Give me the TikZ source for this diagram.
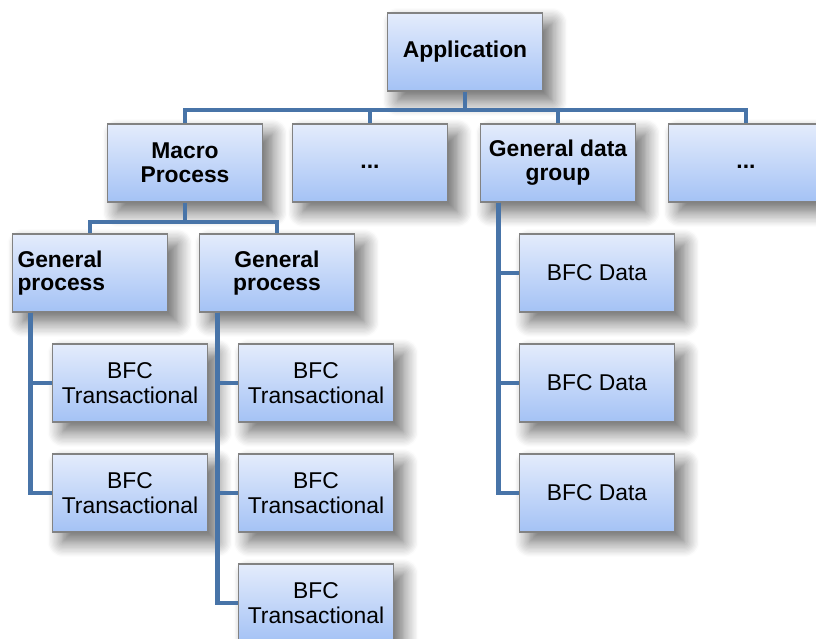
\documentclass[tikz,border=0pt]{standalone}
\usepackage{fontspec}
\setmainfont{Liberation Sans}
\usetikzlibrary{positioning,calc,shadows.blur}
\definecolor{BoxTop}{RGB}{228,236,252}
\definecolor{BoxBottom}{RGB}{164,194,245}
\definecolor{BoxLine}{RGB}{130,130,130}
\definecolor{LinkBlue}{RGB}{72,116,168}
\tikzset{
  unit/.style={draw=BoxLine,line width=0.8pt,top color=BoxTop,bottom color=BoxBottom,
    minimum width=3.1cm,minimum height=1.56cm,inner sep=2pt,align=center,
    blur shadow={shadow xshift=2mm,shadow yshift=-2mm,shadow blur radius=3mm,
      shadow blur steps=12,shadow opacity=60},
    font=\fontsize{13}{14}\selectfont},
  head/.style={unit,font=\fontsize{13}{13.5}\selectfont\bfseries},
  leaf/.style={unit},
  link/.style={draw=LinkBlue,line width=2.8pt},
}

\begin{document}
\begin{tikzpicture}[x=0.02cm,y=-0.02cm]
\path[use as bounding box,clip] (0,0) rectangle (816,639);
\node[head] (app) at (465,52) {Application};
\node[head] (mp) at (185,163) {Macro\\Process};
\node[head] (dotsa) at (370,163) {\raisebox{-3pt}[0pt][0pt]{...}};
\node[head] (gdg) at (558,163) {General data\\group};
\node[head] (dotsb) at (746,163) {\raisebox{-3pt}[0pt][0pt]{...}};
\node[head,text width=2.9cm,align=left] (gpa) at (90,273) {General\\process};
\node[head] (gpb) at (277,273) {General\\process};
\node[leaf] (ta) at (130,383) {BFC\\Transactional};
\node[leaf] (tb) at (130,493) {BFC\\Transactional};
\node[leaf] (tc) at (316,383) {BFC\\Transactional};
\node[leaf] (td) at (316,493) {BFC\\Transactional};
\node[leaf] (te) at (316,603) {BFC\\Transactional};
\node[leaf] (da) at (597,273) {BFC Data};
\node[leaf] (db) at (597,383) {BFC Data};
\node[leaf] (dc) at (597,493) {BFC Data};
\coordinate (bus) at (465,110);
\coordinate (mpbus) at (185,222);
\draw[link] (app.south) -- (bus);
\draw[link] (mp.north) |- (bus) -| (dotsb.north);
\draw[link] (dotsa.north) -- (dotsa.north |- bus);
\draw[link] (gdg.north) -- (gdg.north |- bus);
\draw[link] (mp.south) -- (mpbus);
\draw[link] (gpa.north) |- (mpbus) -| (gpb.north);
\draw[link] ([xshift=0.38cm]gpa.south west) |- (ta.west);
\draw[link] ([xshift=0.38cm]gpa.south west) |- (tb.west);
\draw[link] ([xshift=0.38cm]gpb.south west) |- (tc.west);
\draw[link] ([xshift=0.38cm]gpb.south west) |- (td.west);
\draw[link] ([xshift=0.38cm]gpb.south west) |- (te.west);
\draw[link] ([xshift=0.38cm]gdg.south west) |- (da.west);
\draw[link] ([xshift=0.38cm]gdg.south west) |- (db.west);
\draw[link] ([xshift=0.38cm]gdg.south west) |- (dc.west);
\end{tikzpicture}
\end{document}
